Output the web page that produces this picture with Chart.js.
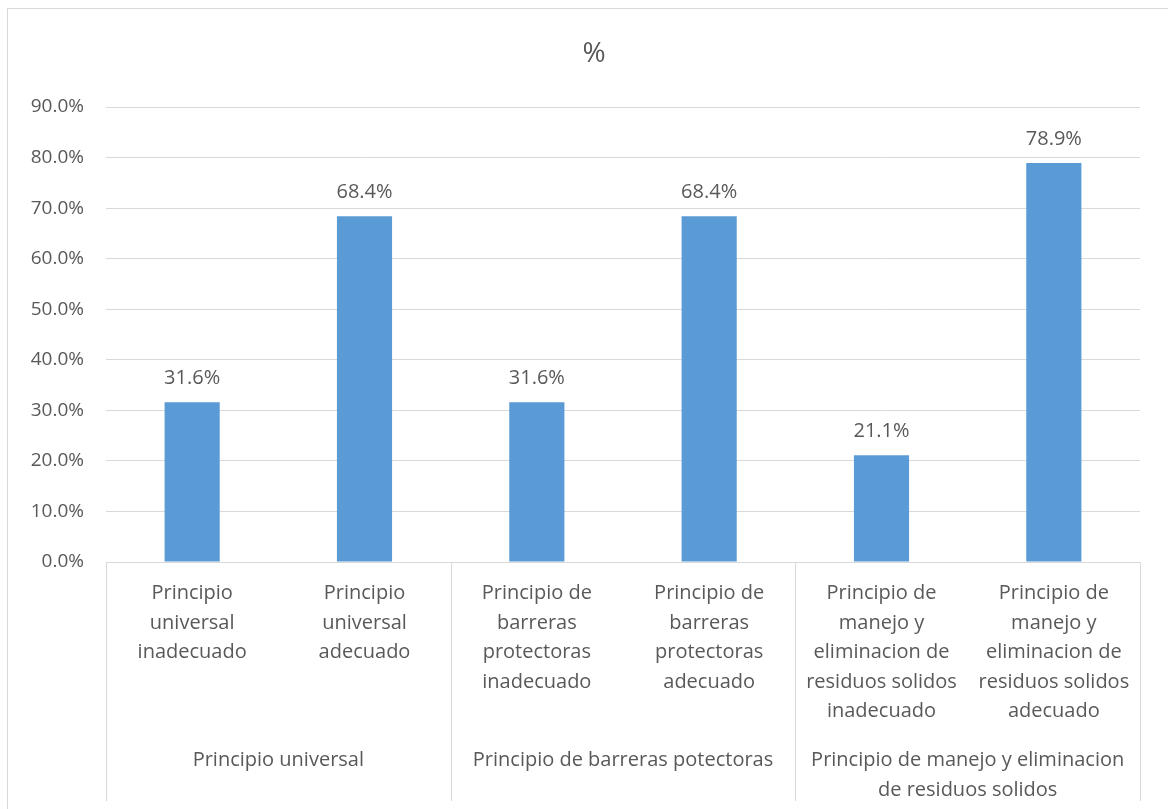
<!DOCTYPE html>
<html>
<head>
<meta charset="utf-8">
<script src="https://cdn.jsdelivr.net/npm/chart.js@4/dist/chart.umd.min.js"></script>
<style>
  html, body { margin: 0; padding: 0; background: #fff; }
  #wrap { width: 1168px; height: 809px; position: relative; }
</style>
</head>
<body>
<div id="wrap"><canvas id="grafico"></canvas></div>
<script>
// datos del gráfico
var titulo = "%";
var categorias = [
  ["Principio", "universal", "inadecuado"],
  ["Principio", "universal", "adecuado"],
  ["Principio de", "barreras", "protectoras", "inadecuado"],
  ["Principio de", "barreras", "protectoras", "adecuado"],
  ["Principio de", "manejo y", "eliminacion de", "residuos solidos", "inadecuado"],
  ["Principio de", "manejo y", "eliminacion de", "residuos solidos", "adecuado"]
];
var grupos = [
  "Principio universal",
  "Principio de barreras potectoras",
  ["Principio de manejo y eliminacion", "de residuos solidos"]
];
var valores = [31.6, 68.4, 31.6, 68.4, 21.1, 78.9];
var ticksY = [0, 10, 20, 30, 40, 50, 60, 70, 80, 90];

var gris = "#595959";
var linea = "#d9d9d9";
var fuente = "'Open Sans', 'Liberation Sans', sans-serif";

// marco exterior, título, etiquetas de datos y separadores del eje
var extras = {
  id: "extras",
  beforeDraw: function (chart) {
    var ctx = chart.ctx;
    ctx.save();
    ctx.strokeStyle = linea;
    ctx.lineWidth = 1;
    ctx.strokeRect(7.5, 8.5, 1400, 1000);
    ctx.fillStyle = gris;
    ctx.font = "28px " + fuente;
    ctx.textAlign = "center";
    ctx.textBaseline = "middle";
    ctx.fillText(titulo, 594, 54);
    ctx.restore();
  },
  afterDatasetsDraw: function (chart) {
    var ctx = chart.ctx;
    var meta = chart.getDatasetMeta(0);
    ctx.save();
    ctx.fillStyle = gris;
    ctx.font = "20px " + fuente;
    ctx.textAlign = "center";
    ctx.textBaseline = "middle";
    meta.data.forEach(function (bar, i) {
      ctx.fillText(valores[i].toFixed(1) + "%", bar.x, bar.y - 24);
    });
    ctx.restore();
  },
  afterDraw: function (chart) {
    var ctx = chart.ctx;
    var x = chart.scales.x;
    var area = chart.chartArea;
    var fondo = chart.height - 8;
    var cortes = [-0.5, 1.5, 3.5, 5.5];
    ctx.save();
    ctx.strokeStyle = linea;
    ctx.lineWidth = 1;
    ctx.beginPath();
    cortes.forEach(function (c) {
      var px = Math.round(x.getPixelForValue(c)) + 0.5;
      ctx.moveTo(px, area.bottom);
      ctx.lineTo(px, fondo);
    });
    ctx.moveTo(area.left, area.bottom + 0.5);
    ctx.lineTo(area.right, area.bottom + 0.5);
    ctx.stroke();
    ctx.restore();
  }
};

var config = {
  type: "bar",
  data: {
    labels: categorias,
    datasets: [{
      data: valores,
      backgroundColor: "#5b9bd5",
      barPercentage: 0.32,
      categoryPercentage: 1
    }]
  },
  options: {
    responsive: true,
    maintainAspectRatio: false,
    animation: false,
    layout: { padding: { left: 0, right: 28, top: 107, bottom: 0 } },
    plugins: {
      legend: { display: false },
      tooltip: { enabled: false },
      title: { display: false }
    },
    scales: {
      x: {
        type: "category",
        grid: { display: false },
        border: { display: false },
        ticks: {
          color: gris,
          font: { family: fuente, size: 20, lineHeight: 1.475 },
          padding: 9,
          maxRotation: 0,
          autoSkip: false
        },
        afterFit: function (s) { s.height = 176; }
      },
      x2: {
        type: "category",
        position: "bottom",
        labels: grupos,
        offset: true,
        grid: { display: false },
        border: { display: false },
        ticks: {
          color: gris,
          font: { family: fuente, size: 20, lineHeight: 1.475 },
          padding: 0,
          maxRotation: 0,
          autoSkip: false
        },
        afterFit: function (s) { s.height = 71; }
      },
      y: {
        min: 0,
        max: 90,
        afterBuildTicks: function (s) {
          s.ticks = ticksY.map(function (v) { return { value: v }; });
        },
        grid: { color: linea, drawTicks: false },
        border: { display: false },
        ticks: {
          color: gris,
          font: { family: fuente, size: 19 },
          padding: 22,
          callback: function (v) { return v.toFixed(1) + "%"; }
        },
        afterFit: function (s) { s.width = 106; }
      }
    }
  },
  plugins: [extras]
};

new Chart(document.getElementById("grafico").getContext("2d"), config);
</script>
</body>
</html>
